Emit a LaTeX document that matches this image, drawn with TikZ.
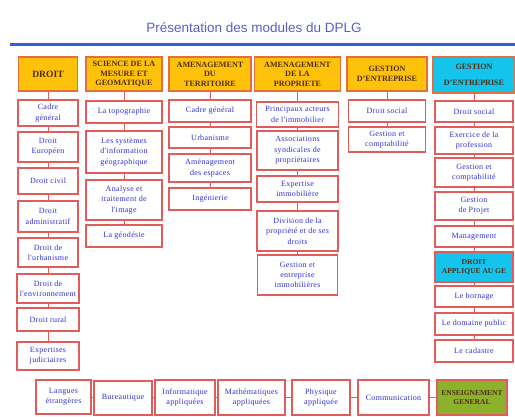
\documentclass[tikz,border=0pt]{standalone}
\usepackage{fontspec}
\setmainfont{Liberation Serif}
\newfontfamily\titlefont{Liberation Sans}
\newfontfamily\modfont[LetterSpace=4]{Liberation Serif}
\definecolor{boxred}{RGB}{226,92,92}
\definecolor{headred}{RGB}{228,110,60}
\definecolor{modblue}{RGB}{48,48,220}
\definecolor{headbrown}{RGB}{80,45,20}
\definecolor{headorange}{RGB}{255,194,10}
\definecolor{headcyan}{RGB}{20,196,236}
\definecolor{headgreen}{RGB}{140,178,44}
\definecolor{titleblue}{RGB}{92,92,200}
\definecolor{lineblue}{RGB}{52,92,230}

\begin{document}
\begin{tikzpicture}[x=1pt,y=-1pt,
		mod/.style={draw=boxred,line width=1.1pt,fill=white,text=modblue,align=center,inner sep=0pt,
			font=\modfont\fontsize{8}{10.3}\selectfont},
		head/.style={mod,draw=headred,fill=headorange,text=headbrown,
			font=\rmfamily\fontsize{8.1}{9.5}\selectfont\bfseries},
		smallhead/.style={head,draw=boxred,font=\rmfamily\fontsize{7.5}{9.4}\selectfont\bfseries},
		link/.style={draw=boxred,line width=1pt}]

		\useasboundingbox (0,0) rectangle (515,417);

		% title and rule
		\node[font=\titlefont\fontsize{13.5}{16}\selectfont,text=titleblue] (title) at (254,28) {Présentation des modules du DPLG};
		\coordinate (ruleA) at (10,45);
		\coordinate (ruleB) at (515,45);
		\draw[lineblue,line width=3pt] (ruleA) -- (ruleB);

		% headers
		\node[head,font=\rmfamily\fontsize{9.6}{11}\selectfont\bfseries,minimum width=59pt,minimum height=34pt] (h1) at (48,74) {DROIT};
		\node[head,minimum width=76pt,minimum height=34pt] (h2) at (124,74) {SCIENCE DE LA\\MESURE ET\\GEOMATIQUE};
		\node[head,minimum width=82pt,minimum height=34pt] (h3) at (210,74) {AMENAGEMENT\\DU\\TERRITOIRE};
		\node[head,minimum width=86pt,minimum height=34pt] (h4) at (297.5,74) {AMENAGEMENT\\DE LA\\PROPRIETE};
		\node[head,minimum width=80pt,minimum height=34pt] (h5) at (387,74) {GESTION\\D'ENTREPRISE};
		\node[head,fill=headcyan,minimum width=82pt,minimum height=36pt] (h6) at (474,75) {GESTION\\[6pt]D'ENTREPRISE};

		% droit
		\node[mod,minimum width=60pt,minimum height=26pt] (a1) at (48,113) {Cadre\\général};
		\node[mod,minimum width=60pt,minimum height=30pt] (a2) at (48,147) {Droit\\Européen};
		\node[mod,minimum width=60pt,minimum height=26pt] (a3) at (48,181) {Droit civil};
		\node[mod,minimum width=60pt,minimum height=31pt] (a4) at (48,216.5) {Droit\\administratif};
		\node[mod,minimum width=60pt,minimum height=29pt] (a5) at (48,252.5) {Droit de\\l'urbanisme};
		\node[mod,minimum width=62pt,minimum height=29pt] (a6) at (48,288.5) {Droit de\\l'environnement};
		\node[mod,minimum width=62pt,minimum height=23pt] (a7) at (48,319.5) {Droit rural};
		\node[mod,minimum width=62pt,minimum height=28pt] (a8) at (48,356) {Expertises\\judiciaires};

		% science de la mesure
		\node[mod,minimum width=76pt,minimum height=22pt] (b1) at (124,112) {La topographie};
		\node[mod,minimum width=76pt,minimum height=42pt] (b2) at (124,152) {Les systèmes\\d'information\\géographique};
		\node[mod,minimum width=76pt,minimum height=40pt] (b3) at (124,200) {Analyse et\\traitement de\\l'image};
		\node[mod,minimum width=76pt,minimum height=22pt] (b4) at (124,236) {La géodésie};

		% amenagement du territoire
		\node[mod,minimum width=82pt,minimum height=22pt] (c1) at (210,111) {Cadre général};
		\node[mod,minimum width=82pt,minimum height=21pt] (c2) at (210,137.5) {Urbanisme};
		\node[mod,minimum width=82pt,minimum height=28pt] (c3) at (210,168) {Aménagement\\des espaces};
		\node[mod,minimum width=82pt,minimum height=22pt] (c4) at (210,199) {Ingénierie};

		% amenagement de la propriete
		\node[mod,minimum width=82pt,minimum height=25pt] (e1) at (297.5,114.5) {Principaux acteurs\\de l'immobilier};
		\node[mod,minimum width=81pt,minimum height=39pt] (e2) at (297.5,150.5) {Associations\\syndicales de\\propriétaires};
		\node[mod,minimum width=81pt,minimum height=26pt] (e3) at (297.5,189) {Expertise\\immobilière};
		\node[mod,minimum width=81pt,minimum height=40pt] (e4) at (297.5,231) {Division de la\\propriété et de ses\\droits};
		\node[mod,minimum width=80pt,minimum height=40pt] (e5) at (297.5,275) {Gestion et\\entreprise\\immobilières};

		% gestion d'entreprise
		\node[mod,minimum width=77pt,minimum height=22pt] (f1) at (387,111) {Droit social};
		\node[mod,minimum width=77pt,minimum height=25pt] (f2) at (387,139.5) {Gestion et\\comptabilité};

		% gestion d'entreprise (GE)
		\node[mod,minimum width=78pt,minimum height=21pt] (g1) at (474,111.5) {Droit social};
		\node[mod,minimum width=78pt,minimum height=27pt] (g2) at (474,140.5) {Exercice de la\\profession};
		\node[mod,minimum width=78pt,minimum height=29pt] (g3) at (474,172.5) {Gestion et\\comptabilité};
		\node[mod,minimum width=78pt,minimum height=28pt] (g4) at (474,206) {Gestion\\de Projet};
		\node[mod,minimum width=78pt,minimum height=21pt] (g5) at (474,236.5) {Management};
		\node[smallhead,fill=headcyan,minimum width=78pt,minimum height=30pt] (g6) at (474,267) {DROIT\\APPLIQUE AU GE};
		\node[mod,minimum width=78pt,minimum height=21pt] (g7) at (474,296.5) {Le bornage};
		\node[mod,minimum width=78pt,minimum height=22pt] (g8) at (474,324) {Le domaine public};
		\node[mod,minimum width=78pt,minimum height=22pt] (g9) at (474,351) {Le cadastre};

		% enseignement general
		\node[mod,minimum width=55pt,minimum height=34pt] (m1) at (63.5,397) {Langues\\étrangères};
		\node[mod,minimum width=58pt,minimum height=34pt] (m2) at (123,398) {Bureautique};
		\node[mod,minimum width=60pt,minimum height=35pt] (m3) at (185,397.5) {Informatique\\appliquées};
		\node[mod,minimum width=67pt,minimum height=35pt] (m4) at (251.5,397.5) {Mathématiques\\appliquées};
		\node[mod,minimum width=58pt,minimum height=35pt] (m5) at (321,397.5) {Physique\\appliquée};
		\node[mod,minimum width=71pt,minimum height=35pt] (m6) at (393.5,397.5) {Communication};
		\node[smallhead,fill=headgreen,minimum width=70pt,minimum height=35pt] (m7) at (472,397.5) {ENSEIGNEMENT\\GENERAL};

		\draw[link] (h1) -- (a1);
		\draw[link] (a1) -- (a2);
		\draw[link] (a2) -- (a3);
		\draw[link] (a3) -- (a4);
		\draw[link] (a4) -- (a5);
		\draw[link] (a5) -- (a6);
		\draw[link] (a6) -- (a7);
		\draw[link] (a7) -- (a8);

		\draw[link] (h2) -- (b1);
		\draw[link] (b1) -- (b2);
		\draw[link] (b2) -- (b3);
		\draw[link] (b3) -- (b4);

		\draw[link] (h3) -- (c1);
		\draw[link] (c1) -- (c2);
		\draw[link] (c2) -- (c3);
		\draw[link] (c3) -- (c4);

		\draw[link] (h4) -- (e1);
		\draw[link] (e1) -- (e2);
		\draw[link] (e2) -- (e3);
		\draw[link] (e3) -- (e4);
		\draw[link] (e4) -- (e5);

		\draw[link] (h5) -- (f1);
		\draw[link] (f1) -- (f2);

		\draw[link] (h6) -- (g1);
		\draw[link] (g1) -- (g2);
		\draw[link] (g2) -- (g3);
		\draw[link] (g3) -- (g4);
		\draw[link] (g4) -- (g5);
		\draw[link] (g5) -- (g6);
		\draw[link] (g6) -- (g7);
		\draw[link] (g7) -- (g8);
		\draw[link] (g8) -- (g9);

		\draw[link] (m1) -- (m2);
		\draw[link] (m2) -- (m3);
		\draw[link] (m3) -- (m4);
		\draw[link] (m4) -- (m5);
		\draw[link] (m5) -- (m6);
		\draw[link] (m6) -- (m7);

	\end{tikzpicture}
\end{document}
